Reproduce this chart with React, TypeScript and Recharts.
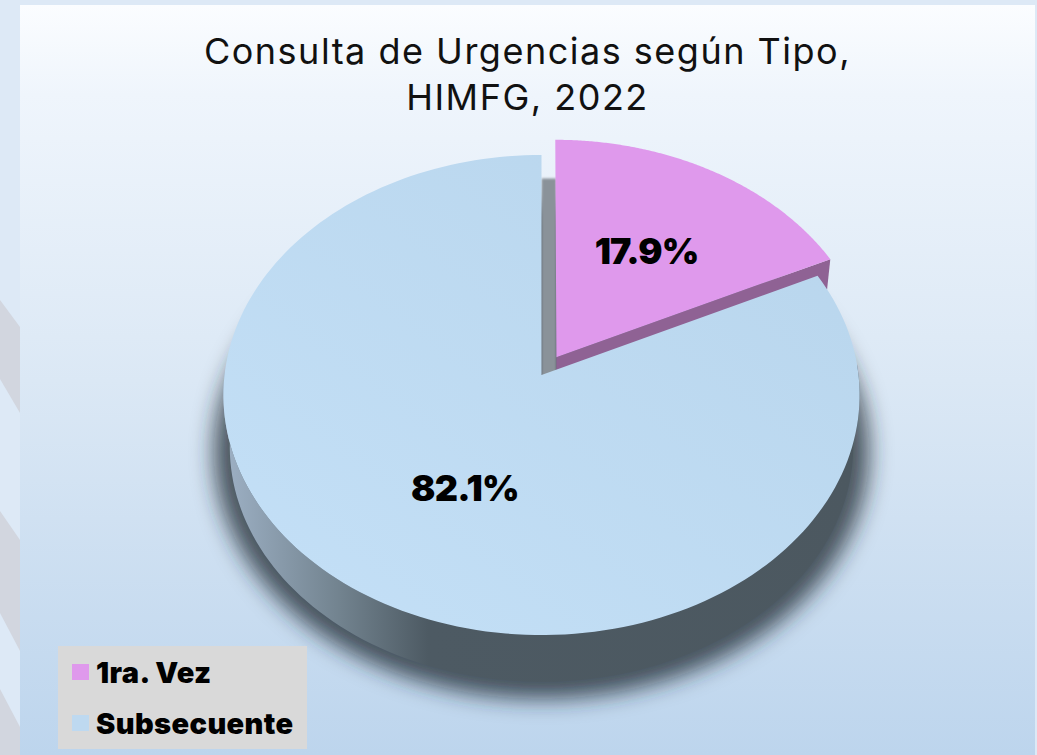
import { PieChart, Pie, Legend } from "recharts"

// values
const categories = ["1ra. Vez", "Subsecuente"]
const shares = [17.9, 82.1]
const sliceColors = ["#df99ec", "#bed9f0"]
const wallColors = ["#8f6294", "url(#blueWall)"]

const tableData = categories.map((name, i) => ({
    name,
    value: shares[i],
    fill: sliceColors[i],
}))

// projection of the flat pie: the back is squeezed and the front is stretched
const TILT = 1 / 12
const SCALE_X = 1
const SCALE_Y = 0.752
const EXPLODE = [0.0888, 0]
const LAYER_SHRINK = 0.98
const LAYER_DROP = 52
const LABEL_RADIUS = [0.555, 0.5]
const LABEL_SHIFT = [
    [1, 0],
    [11, 8],
]

const RAD = Math.PI / 180

function project(x: number, y: number, cx: number, cy: number, r: number, shrink = 1, drop = 0) {
    const w = 1 - TILT * y
    return [cx + (shrink * SCALE_X * r * x) / w, cy + (shrink * SCALE_Y * r * y) / w + drop]
}

function toPath(pts: number[][]) {
    return pts.map((p, i) => `${i ? "L" : "M"}${p[0].toFixed(2)},${p[1].toFixed(2)}`).join(" ") + " Z"
}

function SliceShape(props: any) {
    const { cx, cy, outerRadius: r, startAngle, endAngle, fill, index } = props
    const mid = ((startAngle + endAngle) / 2) * RAD
    const ex = EXPLODE[index] * Math.cos(mid)
    const ey = -EXPLODE[index] * Math.sin(mid)

    const unit: number[][] = []
    const steps = 180
    for (let i = 0; i <= steps; i++) {
        const a = (startAngle + ((endAngle - startAngle) * i) / steps) * RAD
        unit.push([ex + Math.cos(a), ey - Math.sin(a)])
    }
    const topArc = unit.map((p) => project(p[0], p[1], cx, cy, r))
    const lowArc = unit.map((p) => project(p[0], p[1], cx, cy, r, LAYER_SHRINK, LAYER_DROP))
    const apex = project(ex, ey, cx, cy, r)
    const lowApex = project(ex, ey, cx, cy, r, LAYER_SHRINK, LAYER_DROP)

    // only the front of the rim can be seen
    const frontTop = topArc.filter((_, i) => unit[i][1] > -0.05)
    const frontLow = lowArc.filter((_, i) => unit[i][1] > -0.05)

    let under = null
    if (index === 0) {
        const ring: number[][] = []
        for (let i = 0; i < 360; i += 2) {
            ring.push(project(Math.cos(i * RAD), -Math.sin(i * RAD), cx, cy, r, 1.03, 56))
        }
        const backY = cy - 0.62 * r
        under = (
            <>
                <path d={toPath(ring)} fill="#1d2a36" fillOpacity={0.78} filter="url(#softShadow)" />
                <path
                    d={toPath([
                        [cx, backY],
                        [apex[0], backY],
                        [apex[0], apex[1] + 24],
                        [cx, cy + 8],
                    ])}
                    fill="#8a9299"
                    filter="url(#softEdge)"
                />
            </>
        )
    }

    return (
        <g>
            {under}
            {index === 0 ? (
                <path
                    d={toPath([apex, lowApex, lowArc[lowArc.length - 1], topArc[topArc.length - 1]])}
                    fill={wallColors[index]}
                />
            ) : (
                <path d={toPath([...frontTop, ...[...frontLow].reverse()])} fill={wallColors[index]} />
            )}
            <path
                d={toPath([apex, ...topArc])}
                fill={index === 1 ? "url(#blueTop)" : fill}
            />
        </g>
    )
}

function SliceLabel(props: any) {
    const { cx, cy, outerRadius: r, midAngle, index, value } = props
    const a = midAngle * RAD
    const rr = LABEL_RADIUS[index]
    const ex = EXPLODE[index] * Math.cos(a)
    const ey = -EXPLODE[index] * Math.sin(a)
    const p = project(ex + rr * Math.cos(a), ey - rr * Math.sin(a), cx, cy, r)
    return (
        <text
            x={p[0] + LABEL_SHIFT[index][0]}
            y={p[1] + LABEL_SHIFT[index][1]}
            textAnchor="middle"
            dominantBaseline="central"
            fontFamily="Inter"
            fontWeight={900}
            fontSize={36}
            letterSpacing={-0.8}
            fill="#000"
        >
            {value}%
        </text>
    )
}

function LegendBox({ payload }: any) {
    return (
        <div style={{ width: 249, height: 103, background: "#d9d9d9", position: "relative" }}>
            {(payload || []).map((item: any, i: number) => (
                <div
                    key={item.value}
                    style={{
                        position: "absolute",
                        left: 14,
                        top: 18 + i * 51,
                        display: "flex",
                        alignItems: "center",
                        height: 16,
                        whiteSpace: "nowrap",
                    }}
                >
                    <span style={{ width: 17, height: 16, background: item.color, display: "inline-block" }} />
                    <span
                        style={{
                            marginLeft: 7,
                            fontFamily: "Inter",
                            fontWeight: 900,
                            fontSize: 29,
                            letterSpacing: 0.4,
                            color: "#000",
                        }}
                    >
                        {item.value}
                    </span>
                </div>
            ))}
        </div>
    )
}

export default function App() {
    return (
        <div
            style={{
                position: "absolute",
                left: 0,
                top: 0,
                width: 1037,
                height: 755,
                overflow: "hidden",
                background: "#dde9f6",
            }}
        >
            <svg width={20} height={755} style={{ position: "absolute", left: 0, top: 0 }}>
                <path d="M0,300 L20,327 L20,413 L0,379 Z" fill="#d2d6df" />
                <path d="M0,511 L20,540 L20,651 L0,613 Z" fill="#d2d6df" />
                <path d="M0,689 L20,727 L20,755 L0,755 Z" fill="#d2d6df" />
            </svg>
            <div
                style={{
                    position: "absolute",
                    left: 20,
                    top: 5,
                    width: 1015,
                    height: 750,
                    background: "linear-gradient(180deg, #fbfdff 0%, #eff5fc 12%, #dbe8f5 50%, #bdd5ed 100%)",
                }}
            />
            <div
                style={{
                    position: "absolute",
                    left: 0,
                    top: 28,
                    width: 1055,
                    textAlign: "center",
                    fontFamily: "Inter",
                    fontSize: 36,
                    letterSpacing: 1.5,
                    lineHeight: "46px",
                    color: "#111",
                }}
            >
                Consulta de Urgencias según Tipo,
                <br />
                HIMFG, 2022
            </div>
            <div style={{ position: "absolute", left: 0, top: 0 }}>
                <PieChart width={1037} height={755} margin={{ top: 0, right: 0, bottom: 0, left: 0 }}>
                    <defs>
                        <filter id="softShadow" x="-20%" y="-20%" width="140%" height="140%">
                            <feGaussianBlur stdDeviation="11" />
                        </filter>
                        <filter id="softEdge" x="-50%" y="-10%" width="200%" height="120%">
                            <feGaussianBlur stdDeviation="1.2" />
                        </filter>
                        <linearGradient id="blueWall" gradientUnits="userSpaceOnUse" x1="225" y1="0" x2="860" y2="0">
                            <stop offset="0" stopColor="#9db0c4" />
                            <stop offset="0.18" stopColor="#72838f" />
                            <stop offset="0.32" stopColor="#4d5a63" />
                            <stop offset="1" stopColor="#4c5860" />
                        </linearGradient>
                        <linearGradient id="blueTop" x1="0" y1="1" x2="1" y2="0">
                            <stop offset="0" stopColor="#c4e0f7" />
                            <stop offset="1" stopColor="#b8d5ec" />
                        </linearGradient>
                    </defs>
                    <Pie
                        data={tableData}
                        dataKey="value"
                        nameKey="name"
                        cx={541.5}
                        cy={375}
                        outerRadius={317}
                        startAngle={90}
                        endAngle={-270}
                        stroke="none"
                        shape={SliceShape}
                        label={SliceLabel}
                        labelLine={false}
                        isAnimationActive={false}
                    />
                    <Legend
                        content={LegendBox}
                        wrapperStyle={{ position: "absolute", left: 58, top: 646, width: 249, height: 103 }}
                    />
                </PieChart>
            </div>
        </div>
    )
}
